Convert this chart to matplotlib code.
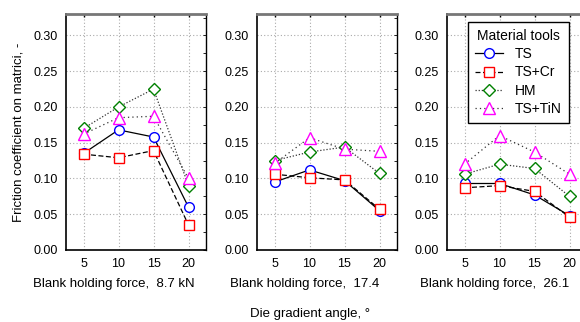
import matplotlib
matplotlib.use("Agg")
import matplotlib.pyplot as plt
from matplotlib.ticker import AutoMinorLocator

plt.rcParams['font.family'] = ['Liberation Sans', 'DejaVu Sans']

angles = [5, 10, 15, 20]
forces = ["8.7 kN", "17.4", "26.1"]

# friction coefficient per panel (blank holding force)
ts = [[0.135, 0.168, 0.158, 0.060],
      [0.095, 0.112, 0.097, 0.055],
      [0.093, 0.093, 0.077, 0.048]]
ts_cr = [[0.134, 0.129, 0.139, 0.035],
         [0.106, 0.101, 0.098, 0.057],
         [0.087, 0.090, 0.082, 0.046]]
hm = [[0.170, 0.200, 0.225, 0.090],
      [0.125, 0.137, 0.144, 0.107],
      [0.106, 0.120, 0.114, 0.075]]
ts_tin = [[0.162, 0.185, 0.187, 0.100],
          [0.121, 0.157, 0.141, 0.138],
          [0.120, 0.160, 0.137, 0.106]]

series = [
    ("TS", ts, dict(color="black", ls="-", marker="o", mec="blue")),
    ("TS+Cr", ts_cr, dict(color="black", ls=(0, (4, 2)), marker="s", mec="red")),
    ("HM", hm, dict(color="#333333", ls=(0, (1, 1.5)), marker="D", mec="green", ms=6)),
    ("TS+TiN", ts_tin, dict(color="#333333", ls=(0, (1, 2.5)), marker="^", mec="magenta", ms=8.5)),
]

fig = plt.figure(figsize=(5.8, 3.22), dpi=100)
lefts = [66 / 580, 257 / 580, 447 / 580]
for i, left in enumerate(lefts):
    ax = fig.add_axes([left, 72 / 322, 140 / 580, 236 / 322])
    for name, data, st in series:
        kw = dict(lw=0.9, mfc="white", mew=1.0, ms=7)
        kw.update(st)
        ax.plot(angles, data[i], label=name, **kw)
    ax.set_xlim(2.5, 22.5)
    ax.set_ylim(0, 0.33)
    ax.set_xticks(angles)
    ax.set_yticks([0, 0.05, 0.10, 0.15, 0.20, 0.25, 0.30])
    ax.set_yticklabels(["%.2f" % v for v in ax.get_yticks()])
    ax.grid(True, ls=(0, (1, 2)), color="#aaaaaa", lw=0.8)
    ax.yaxis.set_minor_locator(AutoMinorLocator(2))
    ax.tick_params(labelsize=9, length=0, pad=6)
    ax.tick_params(axis="y", which="both", right=True, direction="in", length=2, width=0.6,
                   left=False)
    ax.tick_params(axis="x", top=True, direction="in", length=2, width=1, bottom=False)
    ax.spines["left"].set_linewidth(1.2)
    ax.spines["bottom"].set_linewidth(1.2)
    ax.spines["right"].set_linewidth(1.0)
    ax.spines["top"].set_linewidth(2.0)
    ax.spines["top"].set_color("#777777")
    ax.set_xlabel("Blank holding force,  " + forces[i], fontsize=9.5)
    ax.xaxis.set_label_coords(0.34, -0.12)
    if i == 0:
        ax.set_ylabel("Friction coefficient on matrici, -", fontsize=9.5, labelpad=6)
    if i == 2:
        leg = ax.legend(title="Material tools", loc="upper left", bbox_to_anchor=(0.1, 0.995),
                        fontsize=10, title_fontsize=10, fancybox=False, framealpha=1,
                        edgecolor="black", handlelength=2.0, borderpad=0.5, labelspacing=0.3,
                        handletextpad=0.9)
        leg.get_frame().set_linewidth(1.0)

fig.text(0.535, 0.015, "Die gradient angle, \u00b0", fontsize=9.5, ha="center")
fig.savefig("out.png", dpi=100)
